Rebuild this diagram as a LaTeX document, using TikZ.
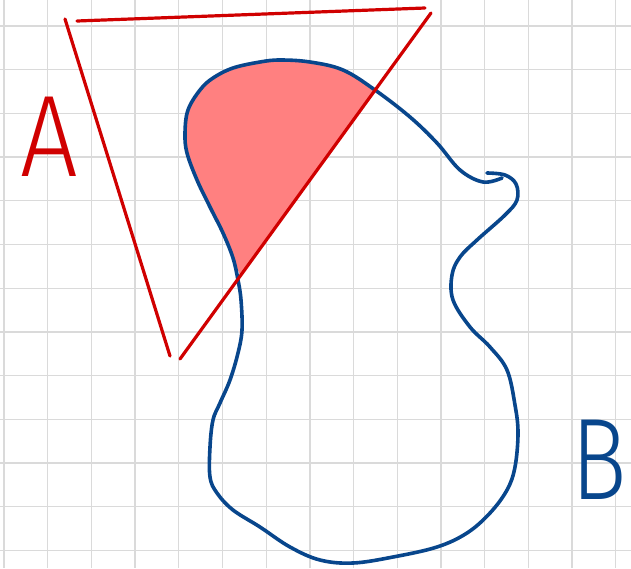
\documentclass[tikz,border=0pt]{standalone}
\usepackage{fontspec}
\newfontfamily\handfont{Fira Sans Light}
\definecolor{sketchred}{RGB}{208,0,0}
\definecolor{sketchpink}{RGB}{255,128,128}
\definecolor{blobblue}{RGB}{8,70,140}
\definecolor{papergrid}{RGB}{218,218,218}

\begin{document}
\begin{tikzpicture}[x=1pt, y=-1pt,
    gridline/.style={papergrid, line width=1.3pt},
    edge/.style={sketchred, line width=3.2pt, line cap=round},
    blob/.style={blobblue, line width=3.6pt, line cap=round, line join=round},
    overlap/.style={sketchpink},
    letter/.style={inner sep=0pt, font=\handfont\fontsize{116}{116}\selectfont}]
  \useasboundingbox (0,0) rectangle (631,568);
  \fill[white] (0,0) rectangle (631,568);
  % squared paper
  \foreach \i in {0,...,14} \draw[gridline] ({4+43.7*\i},0) -- ({4+43.7*\i},568);
  \foreach \j in {0,...,12} \draw[gridline] (0,{26+43.7*\j}) -- (631,{26+43.7*\j});

  % the part of B inside A
  \fill[overlap] plot[smooth, tension=0.6] coordinates {(240,275) (233,258) (223,233)
      (210,207) (197,180) (187,153) (185,133) (188,110) (200,90) (213,78) (233,68)
      (260,62) (280,60) (310,62) (343,70) (375,90)} -- cycle;

  % region B
  \draw[blob] plot[smooth, tension=0.6] coordinates {(487,173) (505,175) (516,184)
      (517,200) (505,215) (477,240) (460,257) (452,275) (453,300) (470,327) (490,347)
      (507,370) (515,405) (518,433) (515,467) (507,490) (490,513) (467,533) (437,547)
      (393,557) (353,563) (320,560) (290,547) (260,527) (233,510) (217,493) (210,477)
      (210,447) (213,420) (220,403) (230,380) (238,353) (242,330) (241,300) (238,280)
      (233,258) (223,233) (210,207) (197,180) (187,153) (185,133) (188,110) (200,90)
      (213,78) (233,68) (260,62) (280,60) (310,62) (343,70) (375,90) (410,117)
      (437,143) (460,170) (483,182) (502,178)};

  % triangle A, its three sides drawn apart
  \coordinate (topleft) at (77,21);
  \coordinate (topright) at (425,8);
  \coordinate (leftup) at (65,19);
  \coordinate (leftdown) at (170,356);
  \coordinate (rightup) at (431,13);
  \coordinate (rightdown) at (180,359);
  \draw[edge] (topleft) -- (topright);
  \draw[edge] (leftup) -- (leftdown);
  \draw[edge] (rightup) -- (rightdown);

  \node[letter, sketchred] (labelA) at (49,137) {\scalebox{0.88}[1]{A}};
  \node[letter, blobblue] (labelB) at (599,460) {\scalebox{0.8}[1]{B}};
\end{tikzpicture}
\end{document}
